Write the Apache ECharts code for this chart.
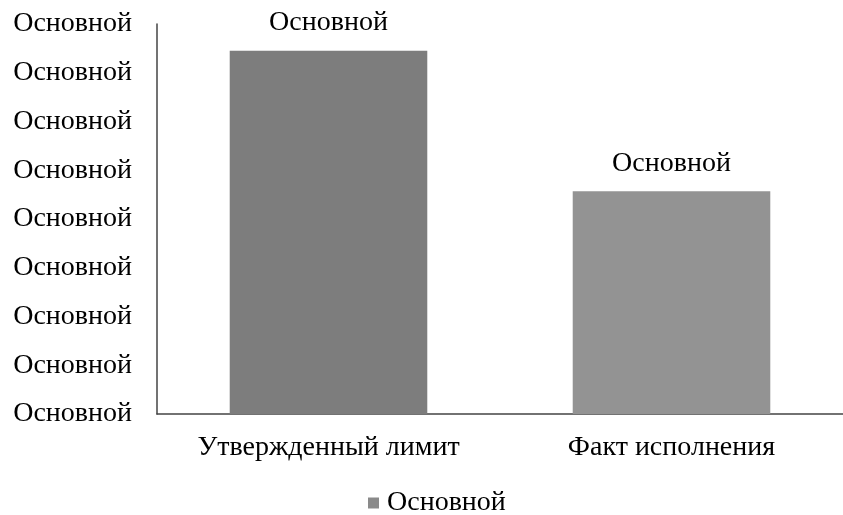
<!DOCTYPE html>
<html><head><meta charset="utf-8">
<script src="https://cdn.jsdelivr.net/npm/echarts@6/dist/echarts.min.js"></script>
<style>html,body{margin:0;padding:0;background:#fff}#c{width:843px;height:515px}</style>
</head><body><div id="c"></div>
<script>
const categories = ['Утвержденный лимит', 'Факт исполнения'];
const seriesName = 'Основной';
const values = [7.45, 4.57];
const barLabels = ['Основной', 'Основной'];
const yTickLabels = ['Основной','Основной','Основной','Основной','Основной','Основной','Основной','Основной','Основной'];

const font = 'Liberation Serif';
const chart = echarts.init(document.getElementById('c'));
chart.setOption({
  animation: false,
  backgroundColor: '#fff',
  grid: { left: 157, right: -8, top: 24, bottom: 101, containLabel: false },
  legend: {
    top: 489, left: 368, padding: 0,
    data: [{ name: seriesName, itemStyle: { color: '#8a8a8a' } }],
    icon: 'rect', itemWidth: 11, itemHeight: 11, itemGap: 4,
    textStyle: { fontFamily: font, fontSize: 28, color: '#000', padding: [0, 0, 0, 3] }
  },
  xAxis: {
    type: 'category', data: categories,
    axisLine: { lineStyle: { color: '#444', width: 1.5 } },
    axisTick: { show: false },
    axisLabel: { fontFamily: font, fontSize: 28, color: '#000', margin: 20 }
  },
  yAxis: {
    type: 'value', min: 0, max: 8, interval: 1,
    axisLine: { show: true, lineStyle: { color: '#444', width: 1.5 } },
    axisTick: { show: false },
    splitLine: { show: false },
    axisLabel: {
      fontFamily: font, fontSize: 28, color: '#000', margin: 25,
      formatter: (v) => yTickLabels[Math.round(v)]
    }
  },
  series: [{
    name: seriesName, type: 'bar', data: values, barWidth: '57.6%',
    color: '#8a8a8a',
    itemStyle: { color: (p) => p.dataIndex === 0 ? '#7d7d7d' : '#939393' },
    label: {
      show: true, position: 'top', distance: 14,
      fontFamily: font, fontSize: 28, color: '#000',
      formatter: (p) => barLabels[p.dataIndex]
    }
  }]
});
</script></body></html>
